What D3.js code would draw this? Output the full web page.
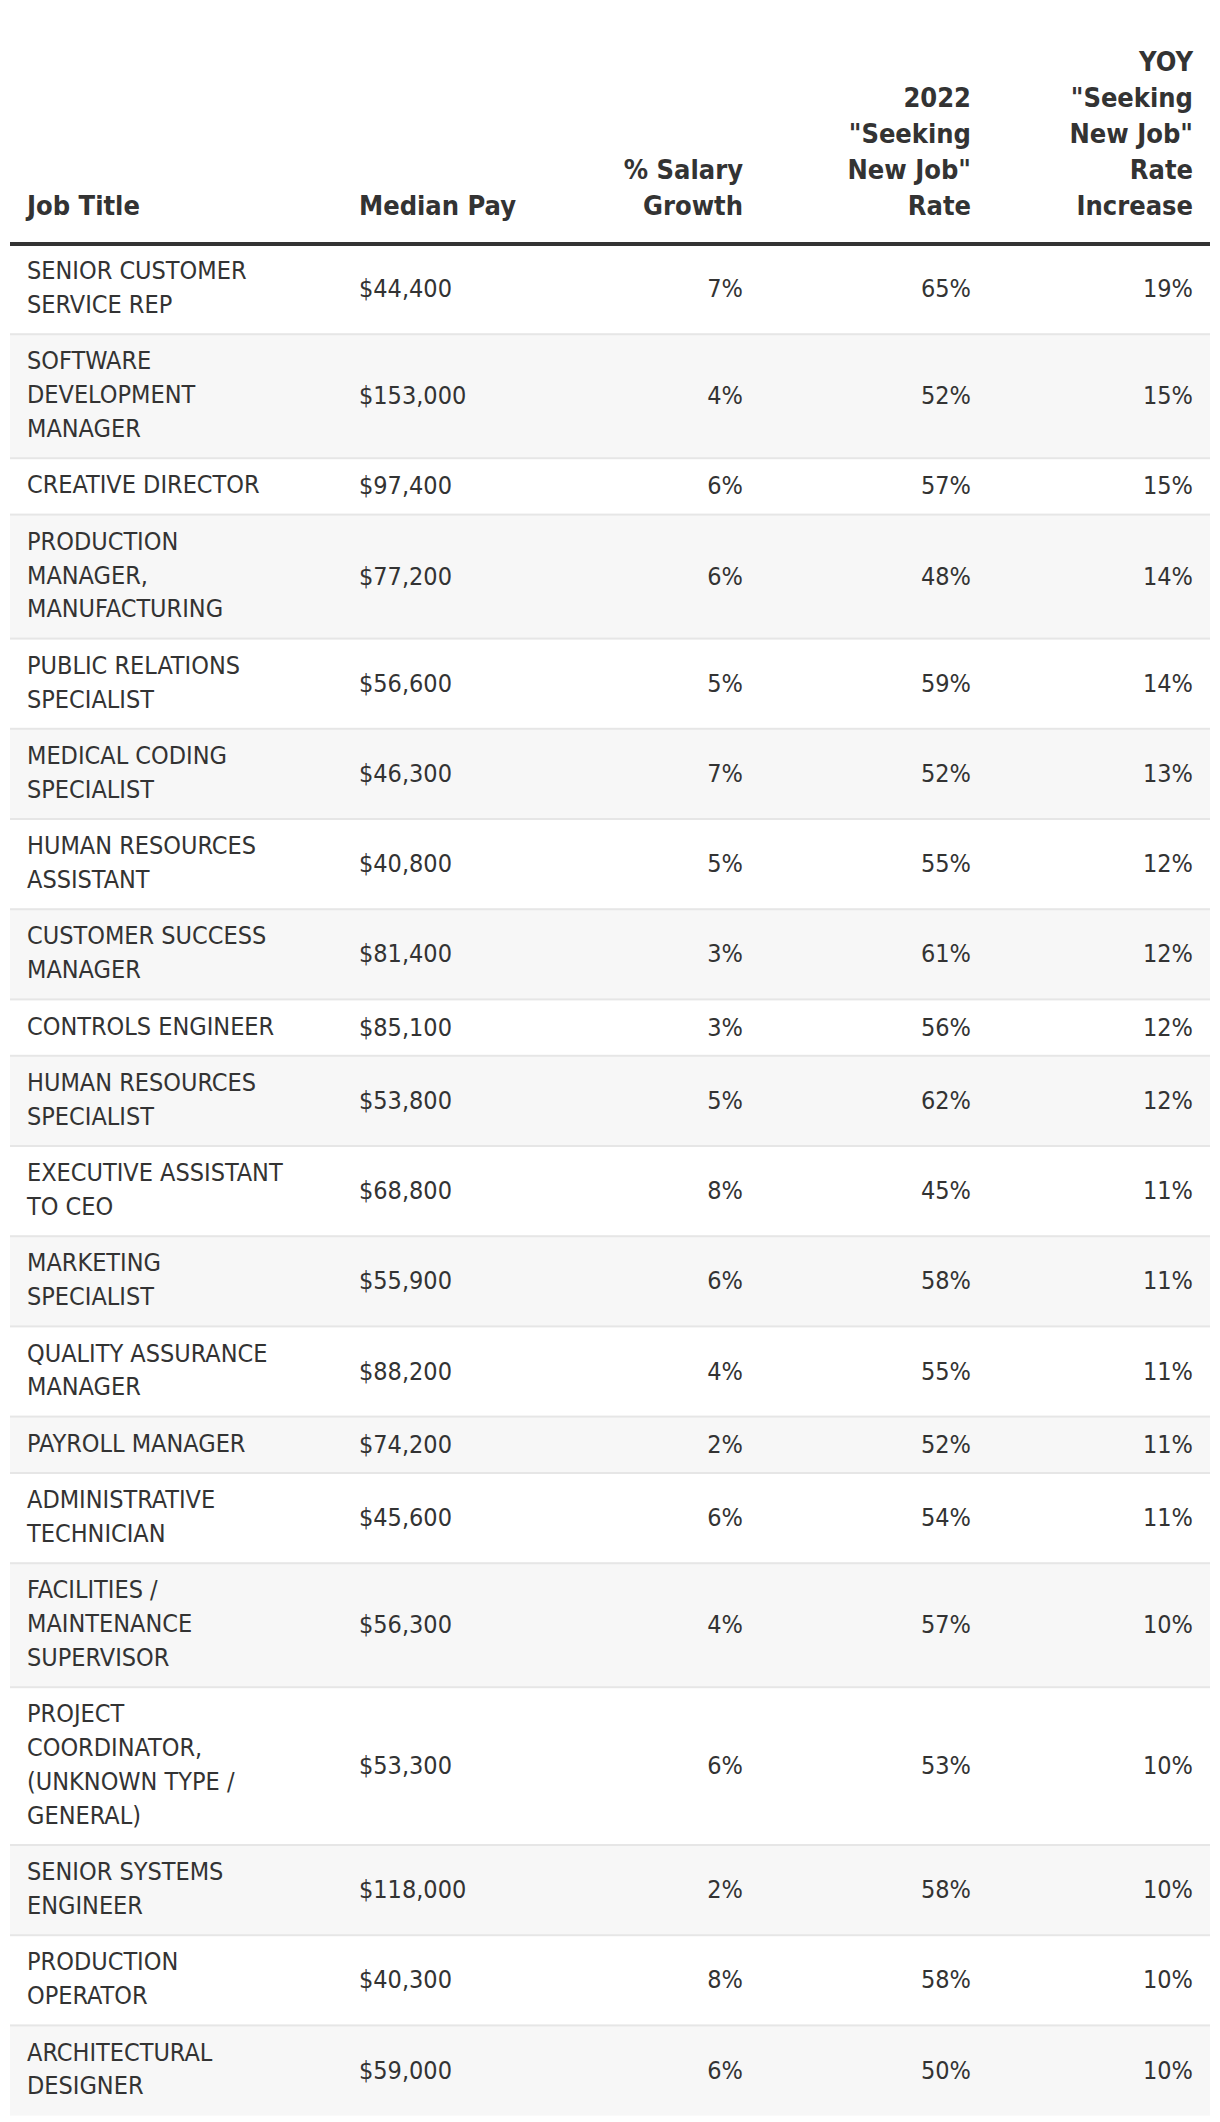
<!DOCTYPE html>
<html>
<head>
<meta charset="utf-8">
<script src="https://cdn.jsdelivr.net/npm/d3@7"></script>
<style>
  html, body { margin: 0; padding: 0; background: #ffffff; }
  svg { display: block; }
</style>
</head>
<body>
<div id="chart"></div>
<script>
// ---------------- DATA ----------------
const headers = ["Job Title", "Median Pay", "% Salary Growth", "2022 \"Seeking New Job\" Rate", "YOY \"Seeking New Job\" Rate Increase"];
const jobTitles = [
  "SENIOR CUSTOMER SERVICE REP",
  "SOFTWARE DEVELOPMENT MANAGER",
  "CREATIVE DIRECTOR",
  "PRODUCTION MANAGER, MANUFACTURING",
  "PUBLIC RELATIONS SPECIALIST",
  "MEDICAL CODING SPECIALIST",
  "HUMAN RESOURCES ASSISTANT",
  "CUSTOMER SUCCESS MANAGER",
  "CONTROLS ENGINEER",
  "HUMAN RESOURCES SPECIALIST",
  "EXECUTIVE ASSISTANT TO CEO",
  "MARKETING SPECIALIST",
  "QUALITY ASSURANCE MANAGER",
  "PAYROLL MANAGER",
  "ADMINISTRATIVE TECHNICIAN",
  "FACILITIES / MAINTENANCE SUPERVISOR",
  "PROJECT COORDINATOR, (UNKNOWN TYPE / GENERAL)",
  "SENIOR SYSTEMS ENGINEER",
  "PRODUCTION OPERATOR",
  "ARCHITECTURAL DESIGNER"
];
const medianPay = [44400, 153000, 97400, 77200, 56600, 46300, 40800, 81400, 85100, 53800, 68800, 55900, 88200, 74200, 45600, 56300, 53300, 118000, 40300, 59000];
const salaryGrowth = [7, 4, 6, 6, 5, 7, 5, 3, 3, 5, 8, 6, 4, 2, 6, 4, 6, 2, 8, 6];
const seekingRate2022 = [65, 52, 57, 48, 59, 52, 55, 61, 56, 62, 45, 58, 55, 52, 54, 57, 53, 58, 58, 50];
const yoyIncrease = [19, 15, 15, 14, 14, 13, 12, 12, 12, 12, 11, 11, 11, 11, 11, 10, 10, 10, 10, 10];

// ---------------- LAYOUT ----------------
const W = 1220, H = 2122;
const FONT = "'Liberation Sans Narrow', 'Arial Narrow', 'DejaVu Sans Condensed', 'Roboto Condensed', sans-serif";
const bodySize = 25, headSize = 27;
const textColor = "#333333";
const tableLeft = 10, tableRight = 1210;
const headerLineY = 244;
const headLH = 36, headBaseline = 215;
const lineH = 33.8, rowPad = 22.6;

const cols = [
  { key: "title", x: 27, anchor: "start" },
  { key: "pay", x: 359, anchor: "start" },
  { key: "growth", x: 743, anchor: "end" },
  { key: "seek", x: 971, anchor: "end" },
  { key: "yoy", x: 1193, anchor: "end" }
];

const canvas = document.createElement("canvas");
const ctx = canvas.getContext("2d");
function measure(text, weight, size) {
  ctx.font = `${weight} ${size}px ${FONT}`;
  return ctx.measureText(text).width;
}
function wrap(text, maxW, weight, size) {
  const words = text.split(" ");
  const lines = [];
  let cur = "";
  words.forEach(w => {
    const t = cur ? cur + " " + w : w;
    if (cur && measure(t, weight, size) > maxW) { lines.push(cur); cur = w; }
    else cur = t;
  });
  if (cur) lines.push(cur);
  return lines;
}

const fmtPay = d3.format("$,");
const fmtPct = d => d + "%";

const rows = jobTitles.map((t, i) => ({
  title: t,
  pay: medianPay[i],
  growth: salaryGrowth[i],
  seek: seekingRate2022[i],
  yoy: yoyIncrease[i]
}));

// wrap titles; limit sits between "EXECUTIVE ASSISTANT" (fits) and "MARKETING SPECIALIST" (breaks)
const refFit = measure("EXECUTIVE ASSISTANT", 400, bodySize);
const refBreak = measure("MARKETING SPECIALIST", 400, bodySize);
const titleMax = (refFit + refBreak) / 2;
rows.forEach(r => { r.lines = wrap(r.title, titleMax, 400, bodySize); });

// cumulative row positions
let yAcc = headerLineY;
rows.forEach(r => {
  r.h = rowPad + lineH * r.lines.length;
  r.y0 = yAcc;
  yAcc += r.h;
});

const svg = d3.select("#chart").append("svg")
  .attr("width", W).attr("height", H)
  .style("font-family", FONT);

// row backgrounds (zebra)
const rowG = svg.append("g").selectAll("g.row").data(rows).join("g").attr("class", "row");
rowG.append("rect")
  .attr("x", tableLeft).attr("width", tableRight - tableLeft)
  .attr("y", d => d.y0).attr("height", d => d.h)
  .attr("fill", (d, i) => i % 2 === 1 ? "#f7f7f7" : "#ffffff");
// separators
rowG.filter((d, i) => i > 0).append("rect")
  .attr("x", tableLeft).attr("width", tableRight - tableLeft)
  .attr("y", d => d.y0 - 1).attr("height", 2)
  .attr("fill", "#e6e6e6");

// title cells
rowG.append("text")
  .attr("fill", textColor)
  .attr("font-size", bodySize)
  .attr("text-anchor", "start")
  .each(function (d) {
    const n = d.lines.length;
    const cy = d.y0 + d.h / 2;
    d3.select(this).selectAll("tspan").data(d.lines).join("tspan")
      .attr("x", cols[0].x)
      .attr("y", (l, j) => cy - (n - 1) / 2 * lineH + j * lineH + 7)
      .text(l => l);
  });

// value cells
const valueCols = [
  { c: cols[1], f: d => fmtPay(d.pay) },
  { c: cols[2], f: d => fmtPct(d.growth) },
  { c: cols[3], f: d => fmtPct(d.seek) },
  { c: cols[4], f: d => fmtPct(d.yoy) }
];
valueCols.forEach(vc => {
  rowG.append("text")
    .attr("x", vc.c.x)
    .attr("y", d => d.y0 + d.h / 2 + 8)
    .attr("text-anchor", vc.c.anchor)
    .attr("fill", textColor)
    .attr("font-size", bodySize)
    .text(vc.f);
});

// header: numeric column labels wrap at the width of their widest kept line
const headFit = d3.max(["% Salary", "\"Seeking", "New Job\"", "Increase"], s => measure(s, 700, headSize)) + 2;
const headMax = [600, 600, headFit, headFit, headFit];
const headG = svg.append("g");
headers.forEach((h, i) => {
  const lines = wrap(h, headMax[i], 700, headSize);
  const n = lines.length;
  const t = headG.append("text")
    .attr("fill", textColor)
    .attr("font-size", headSize)
    .attr("font-weight", 700)
    .attr("text-anchor", cols[i].anchor);
  t.selectAll("tspan").data(lines).join("tspan")
    .attr("x", cols[i].x)
    .attr("y", (l, j) => headBaseline - (n - 1 - j) * headLH)
    .text(l => l);
});

// thick header rule
svg.append("rect")
  .attr("x", tableLeft).attr("width", tableRight - tableLeft)
  .attr("y", headerLineY - 2).attr("height", 4)
  .attr("fill", "#333333");
</script>
</body>
</html>
